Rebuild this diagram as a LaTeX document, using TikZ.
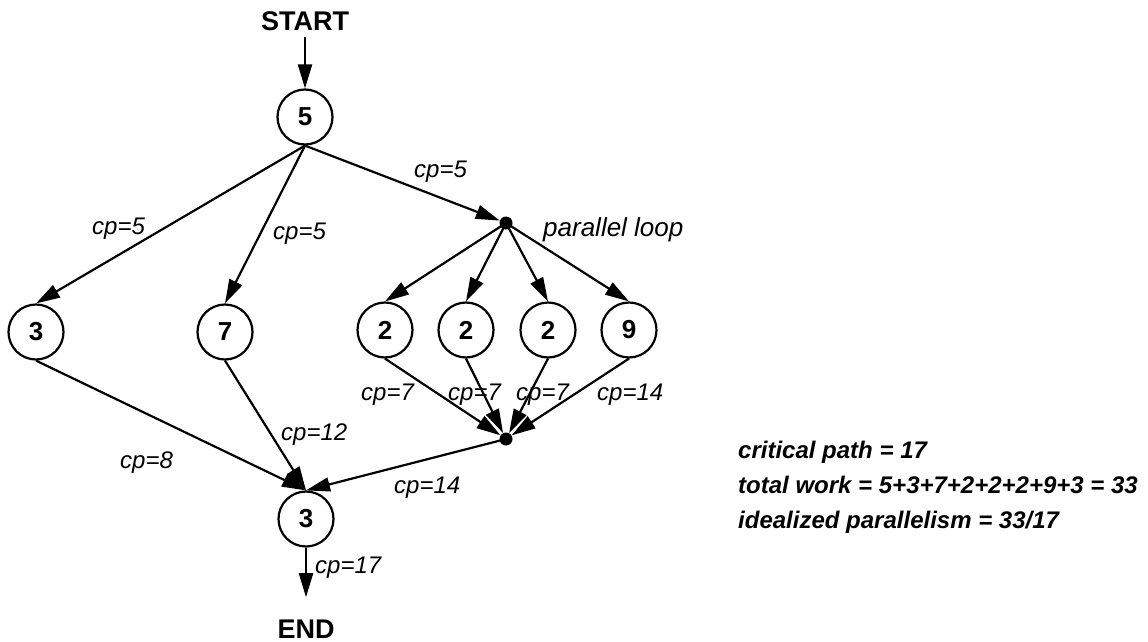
\documentclass[tikz,border=0pt]{standalone}
\usepackage{fontspec}
\setmainfont{Liberation Sans}
\usetikzlibrary{arrows.meta}
\begin{document}
\begin{tikzpicture}[x=1pt,y=-1pt,
  task/.style={circle,draw,line width=2.2pt,minimum size=55pt,inner sep=0pt,
    font=\fontsize{26}{26}\selectfont\bfseries},
  dot/.style={circle,fill,inner sep=0pt,minimum size=13pt},
  terminal/.style={anchor=base,inner sep=0pt,font=\fontsize{27}{27}\selectfont\bfseries},
  edge/.style={line width=2.2pt,-{Triangle[length=24pt,width=14pt]}},
  lbl/.style={anchor=base west,inner sep=0pt,font=\fontsize{24}{24}\selectfont\itshape},
  note/.style={anchor=base west,inner sep=0pt,font=\fontsize{24}{24}\selectfont\bfseries\itshape}]
\useasboundingbox (0,0) rectangle (1148,642);

% terminals
\node[terminal] (start) at (305,31) {START};
\node[terminal] (end) at (306,638) {END};

% tasks
\node[task] (a)  at (305,117) {5};
\node[task] (b)  at (36,332)  {3};
\node[task] (c)  at (225,332) {7};
\node[task] (p1) at (385,330) {2};
\node[task] (p2) at (466,330) {2};
\node[task] (p3) at (548,330) {2};
\node[task] (p4) at (629,330) {9};
\node[task] (d)  at (306,519) {3};

% fork and join of the parallel loop
\node[dot] (fork) at (506,223) {};
\node[dot] (join) at (506,439) {};

% connectors
\draw[edge] ([yshift=-6pt]start.south) -- (a.north);
\draw[edge] (a.south) -- (b.north);
\draw[edge] (a.south) -- (c.north);
\draw[edge] (a.south) -- (fork);
\foreach \p in {p1,p2,p3,p4}{
  \draw[edge] (fork.center) -- (\p.north);
  \draw[edge] (\p.south) -- (join);
}
\draw[edge] (b.south) -- (d.north);
\draw[edge] (c.south) -- (d.north);
\draw[edge] (join.center) -- (d.north);
\draw[edge] (d.south) -- ([yshift=22pt]end.north);

% critical path labels
\node[lbl] (l1) at (92,234)  {cp=5};
\node[lbl] (l2) at (273,239) {cp=5};
\node[lbl] (l3) at (414,177) {cp=5};
\node[lbl,font=\fontsize{26}{26}\selectfont\itshape] (pl) at (543,236) {parallel loop};
\node[lbl] (l4) at (361,400) {cp=7};
\node[lbl] (l5) at (448,400) {cp=7};
\node[lbl] (l6) at (516,400) {cp=7};
\node[lbl] (l7) at (597,400) {cp=14};
\node[lbl] (l8) at (281,440) {cp=12};
\node[lbl] (l9) at (120,468) {cp=8};
\node[lbl] (l10) at (394,493) {cp=14};
\node[lbl] (l11) at (315,573) {cp=17};

% summary
\node[note] (n1) at (738,458) {critical path = 17};
\node[note] (n2) at (738,493) {total work = 5+3+7+2+2+2+9+3 = 33};
\node[note] (n3) at (738,528) {idealized parallelism = 33/17};
\end{tikzpicture}
\end{document}
